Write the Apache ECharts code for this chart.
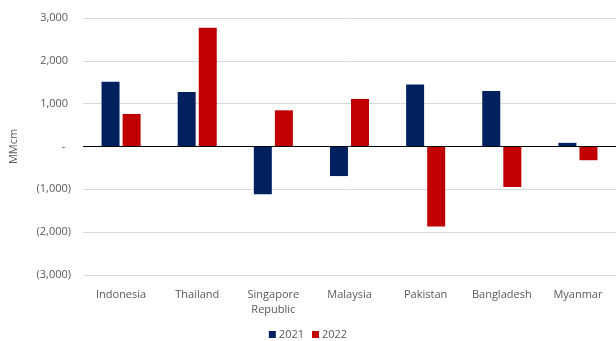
<!DOCTYPE html>
<html>
<head>
<meta charset="utf-8">
<script src="https://cdn.jsdelivr.net/npm/echarts@6/dist/echarts.min.js"></script>
<style>
  html, body { margin: 0; padding: 0; background: #fff; }
  #chart { width: 616px; height: 341px; }
</style>
</head>
<body>
<div id="chart"></div>
<script>
// data (MMcm)
const countries = ['Indonesia', 'Thailand', 'Singapore\nRepublic', 'Malaysia', 'Pakistan', 'Bangladesh', 'Myanmar'];
const y2021 = [1510, 1270, -1115, -690, 1450, 1295, 85];
const y2022 = [760, 2770, 845, 1110, -1870, -945, -320];
const yTicks = [-3000, -2000, -1000, 0, 1000, 2000, 3000];

const labelFont = "'Open Sans', 'Liberation Sans', sans-serif";

const chart = echarts.init(document.getElementById('chart'));

function fmt(v) {
  if (v === 0) return '-  ';
  const s = Math.abs(v).toLocaleString('en-US');
  return v < 0 ? '(' + s + ')' : s + ' ';
}

const option = {
  animation: false,
  grid: { top: 18, bottom: 66, left: 82, right: -4 },
  legend: {
    data: ['2021', '2022'],
    bottom: -4,
    left: 'center',
    itemWidth: 7,
    itemHeight: 7,
    itemGap: 8,
    icon: 'rect',
    textStyle: { color: '#595959', fontSize: 11, fontFamily: labelFont, padding: [0, 0, 0, -2] }
  },
  xAxis: {
    type: 'category',
    data: countries,
    axisLine: { onZero: false, show: false },
    axisTick: { show: false },
    axisLabel: { color: '#595959', fontSize: 11, fontFamily: labelFont, margin: 12, lineHeight: 15, interval: 0 }
  },
  yAxis: {
    type: 'value',
    name: 'MMcm',
    nameLocation: 'middle',
    nameRotate: 90,
    nameGap: 64,
    nameTextStyle: { color: '#595959', fontSize: 11, fontFamily: labelFont },
    min: yTicks[0],
    max: yTicks[yTicks.length - 1],
    interval: 1000,
    axisLine: { show: false },
    axisTick: { show: false },
    axisLabel: { color: '#595959', fontSize: 11, fontFamily: labelFont, margin: 12, formatter: fmt },
    splitLine: { lineStyle: { color: '#d9d9d9', width: 1 } }
  },
  series: [
    {
      name: '2021',
      type: 'bar',
      data: y2021,
      barWidth: 18,
      barGap: '17%',
      itemStyle: { color: '#002060' },
      markLine: {
        silent: true,
        symbol: 'none',
        label: { show: false },
        lineStyle: { color: '#000', width: 1, type: 'solid' },
        data: [{ yAxis: 0 }]
      }
    },
    {
      name: '2022',
      type: 'bar',
      data: y2022,
      barWidth: 18,
      itemStyle: { color: '#c00000' }
    }
  ]
};

chart.setOption(option);
</script>
</body>
</html>
